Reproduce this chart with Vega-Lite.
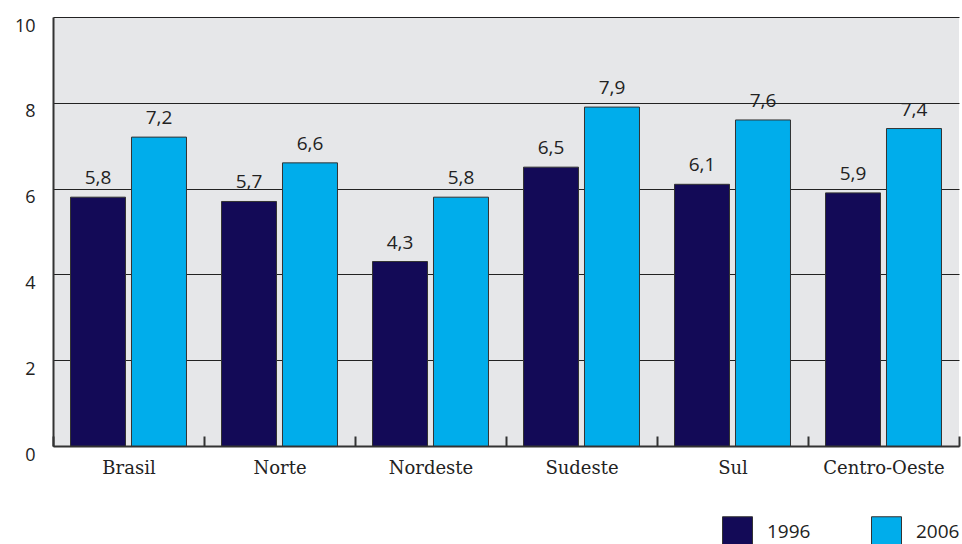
{
  "$schema": "https://vega.github.io/schema/vega-lite/v6.json",
  "width": 906,
  "height": 429,
  "autosize": "none",
  "padding": {"left": 53, "top": 17, "right": 3, "bottom": 98},
  "data": {"values": [
    {"regiao": "Brasil", "ano": "1996", "valor": 5.8},
    {"regiao": "Brasil", "ano": "2006", "valor": 7.2},
    {"regiao": "Norte", "ano": "1996", "valor": 5.7},
    {"regiao": "Norte", "ano": "2006", "valor": 6.6},
    {"regiao": "Nordeste", "ano": "1996", "valor": 4.3},
    {"regiao": "Nordeste", "ano": "2006", "valor": 5.8},
    {"regiao": "Sudeste", "ano": "1996", "valor": 6.5},
    {"regiao": "Sudeste", "ano": "2006", "valor": 7.9},
    {"regiao": "Sul", "ano": "1996", "valor": 6.1},
    {"regiao": "Sul", "ano": "2006", "valor": 7.6},
    {"regiao": "Centro-Oeste", "ano": "1996", "valor": 5.9},
    {"regiao": "Centro-Oeste", "ano": "2006", "valor": 7.4}
  ]},
  "encoding": {
    "x": {
      "field": "regiao", "type": "nominal", "sort": null,
      "scale": {"paddingInner": 0, "paddingOuter": 0},
      "axis": {
        "title": null, "labelAngle": 0, "labelFont": "DejaVu Serif", "labelFontSize": 18,
        "labelColor": "#222", "tickBand": "extent", "tickSize": -10, "tickWidth": 2,
        "tickColor": "#333", "domainColor": "#333", "domainWidth": 2, "labelPadding": 23,
        "labelBaseline": "top"
      }
    },
    "xOffset": {
      "field": "ano", "type": "nominal",
      "scale": {"paddingInner": 0.098, "paddingOuter": 0.287}
    },
    "y": {
      "field": "valor", "type": "quantitative",
      "scale": {"domain": [0, 10], "nice": false},
      "axis": {
        "title": null, "values": [0, 2, 4, 6, 8, 10], "ticks": false,
        "labelFont": "Open Sans", "labelFontSize": 18, "labelColor": "#222",
        "labelPadding": 18, "labelOffset": 9,
        "domainColor": "#333", "domainWidth": 2,
        "grid": true, "gridColor": "#222", "gridWidth": 1.2
      }
    }
  },
  "layer": [
    {
      "mark": {"type": "bar", "stroke": "#333", "strokeWidth": 1},
      "encoding": {
        "color": {
          "field": "ano", "type": "nominal",
          "scale": {"domain": ["1996", "2006"], "range": ["#130a57", "#00adeb"]},
          "legend": {
            "title": null, "orient": "none", "legendX": 669, "legendY": 499,
            "direction": "horizontal", "columns": 2, "symbolType": "square", "symbolSize": 900,
            "symbolStrokeColor": "#333", "symbolStrokeWidth": 1, "symbolOpacity": 1,
            "labelFont": "Open Sans", "labelFontSize": 19, "labelColor": "#222",
            "labelOffset": 14, "columnPadding": 58
          }
        }
      }
    },
    {
      "mark": {"type": "text", "baseline": "alphabetic", "dy": -13, "font": "Open Sans", "fontSize": 19, "color": "#222"},
      "encoding": {
        "text": {"field": "valor", "type": "quantitative", "format": ".1f"}
      }
    }
  ],
  "config": {
    "view": {"fill": "#e6e7e9", "stroke": null},
    "locale": {"number": {"decimal": ",", "thousands": ".", "grouping": [3], "currency": ["", ""]}}
  }
}
